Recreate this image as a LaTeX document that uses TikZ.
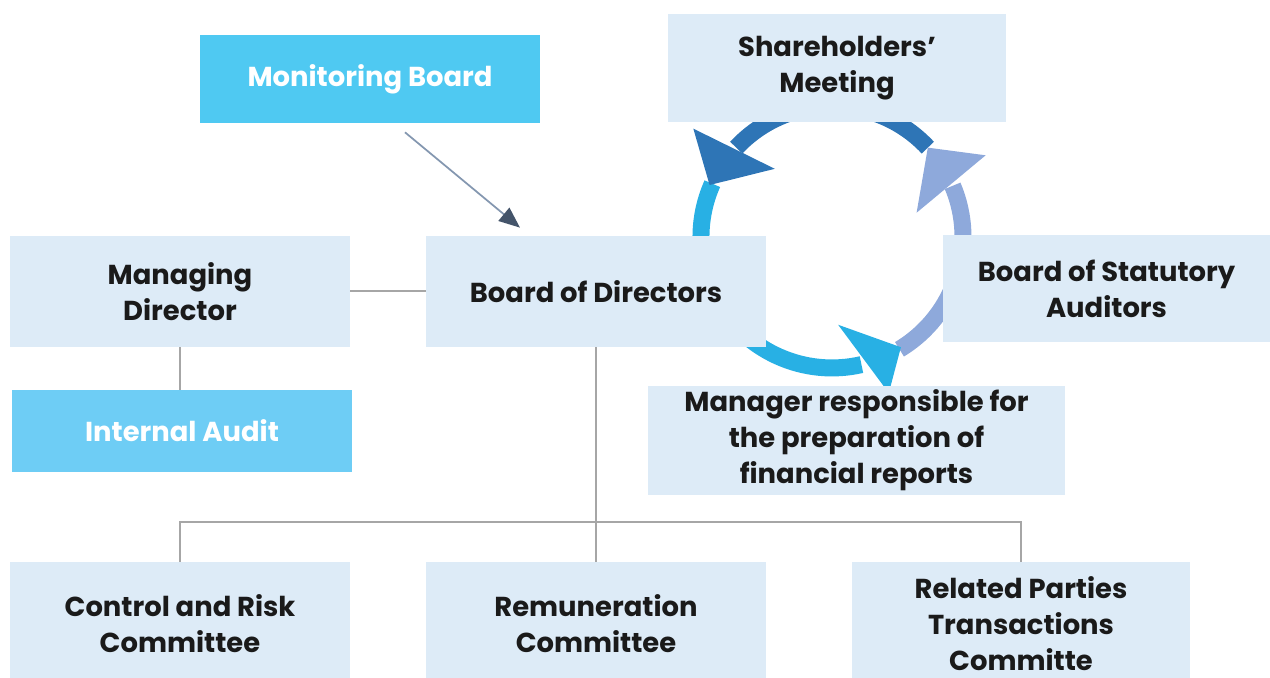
\documentclass[tikz,border=0pt]{standalone}
\usepackage{fontspec}
\setmainfont{Poppins}
\usetikzlibrary{calc,arrows.meta}
\definecolor{boxfill}{HTML}{DDEBF7}
\definecolor{cyanA}{HTML}{4FC9F2}
\definecolor{cyanB}{HTML}{6ECDF5}
\definecolor{darkblue}{HTML}{2E75B6}
\definecolor{lightblue}{HTML}{28B0E4}
\definecolor{lavender}{HTML}{8EA9DB}
\definecolor{conn}{HTML}{A6A6A6}
\definecolor{arrline}{HTML}{8497B0}
\definecolor{arrhead}{HTML}{44546A}
\definecolor{txt}{HTML}{1A1A1A}
\tikzset{
  box/.style={fill=boxfill, draw=none, inner sep=0pt, align=center, text=txt,
    font=\bfseries\fontsize{15.6}{20.5}\selectfont},
  hibox/.style={box, text=white},
  conline/.style={draw=conn, line width=0.04cm},
  band/.style={line width=0.34cm},
}
\begin{document}
\begin{tikzpicture}[x=0.02cm,y=0.02cm]
\useasboundingbox (0,0) rectangle (1270,678);
% circular arrows
\coordinate (C) at (832,441);
\draw[band, darkblue] ($(C)+(43:131)$) arc[start angle=43, end angle=137, radius=2.62cm];
\draw[band, lightblue] ($(C)+(156:131)$) arc[start angle=156, end angle=283, radius=2.62cm];
\draw[band, lavender] ($(C)+(301:131)$) arc[start angle=301, end angle=383, radius=2.62cm];
\fill[darkblue] ($(C)+(130:89)$) -- ($(C)+(142:176)$) -- ($(C)+(157:133)$) -- cycle;
\fill[lightblue] ($(C)+(274:88)$) -- ($(C)+(290:166)$) -- ($(C)+(302:130)$) -- cycle;
\fill[lavender] ($(C)+(16:88)$) -- ($(C)+(28:174)$) -- ($(C)+(43:131)$) -- cycle;
% boxes
\node[hibox, fill=cyanA, minimum width=6.8cm, minimum height=1.76cm] (mon) at (370,599) {Monitoring Board};
\node[box, minimum width=6.76cm, minimum height=2.16cm] (share) at (837,610) {Shareholders’\\Meeting};
\node[box, minimum width=6.8cm, minimum height=2.22cm] (md) at (180,386.5) {Managing\\Director};
\node[box, minimum width=6.8cm, minimum height=2.22cm] (bod) at (596,386.5) {Board of Directors};
\node[box, minimum width=6.54cm, minimum height=2.14cm] (sa) at (1106.5,389.5) {Board of Statutory\\Auditors};
\node[hibox, fill=cyanB, minimum width=6.8cm, minimum height=1.64cm] (ia) at (182,247) {Internal Audit};
\node[box, minimum width=8.34cm, minimum height=2.18cm] (mgr) at (856.5,237.5) {Manager responsible for\\the preparation of\\financial reports};
\node[box, minimum width=6.8cm, minimum height=2.48cm] (crc) at (180,54) {Control and Risk\\Committee};
\node[box, minimum width=6.8cm, minimum height=2.48cm] (rem) at (596,54) {Remuneration\\Committee};
\node[box, minimum width=6.76cm, minimum height=2.48cm] (rpt) at (1021,54) {Related Parties\\Transactions\\Committe};
% connectors
\coordinate (bus) at (0,156);
\draw[conline] (md.east) -- (bod.west);
\draw[conline] (md.south) -- (md.south |- ia.north);
\draw[conline] (bod.south) -- (rem.north);
\draw[conline] (crc.north) -- (crc.north |- bus) -- (rpt.north |- bus) -- (rpt.north);
\draw[draw=arrline, line width=0.035cm, -{Triangle[length=0.42cm,width=0.34cm,fill=arrhead,color=arrhead]}]
  ($(mon.south)+(35,-9)$) -- ($(bod.north)+(-76,8)$);
\end{tikzpicture}
\end{document}
